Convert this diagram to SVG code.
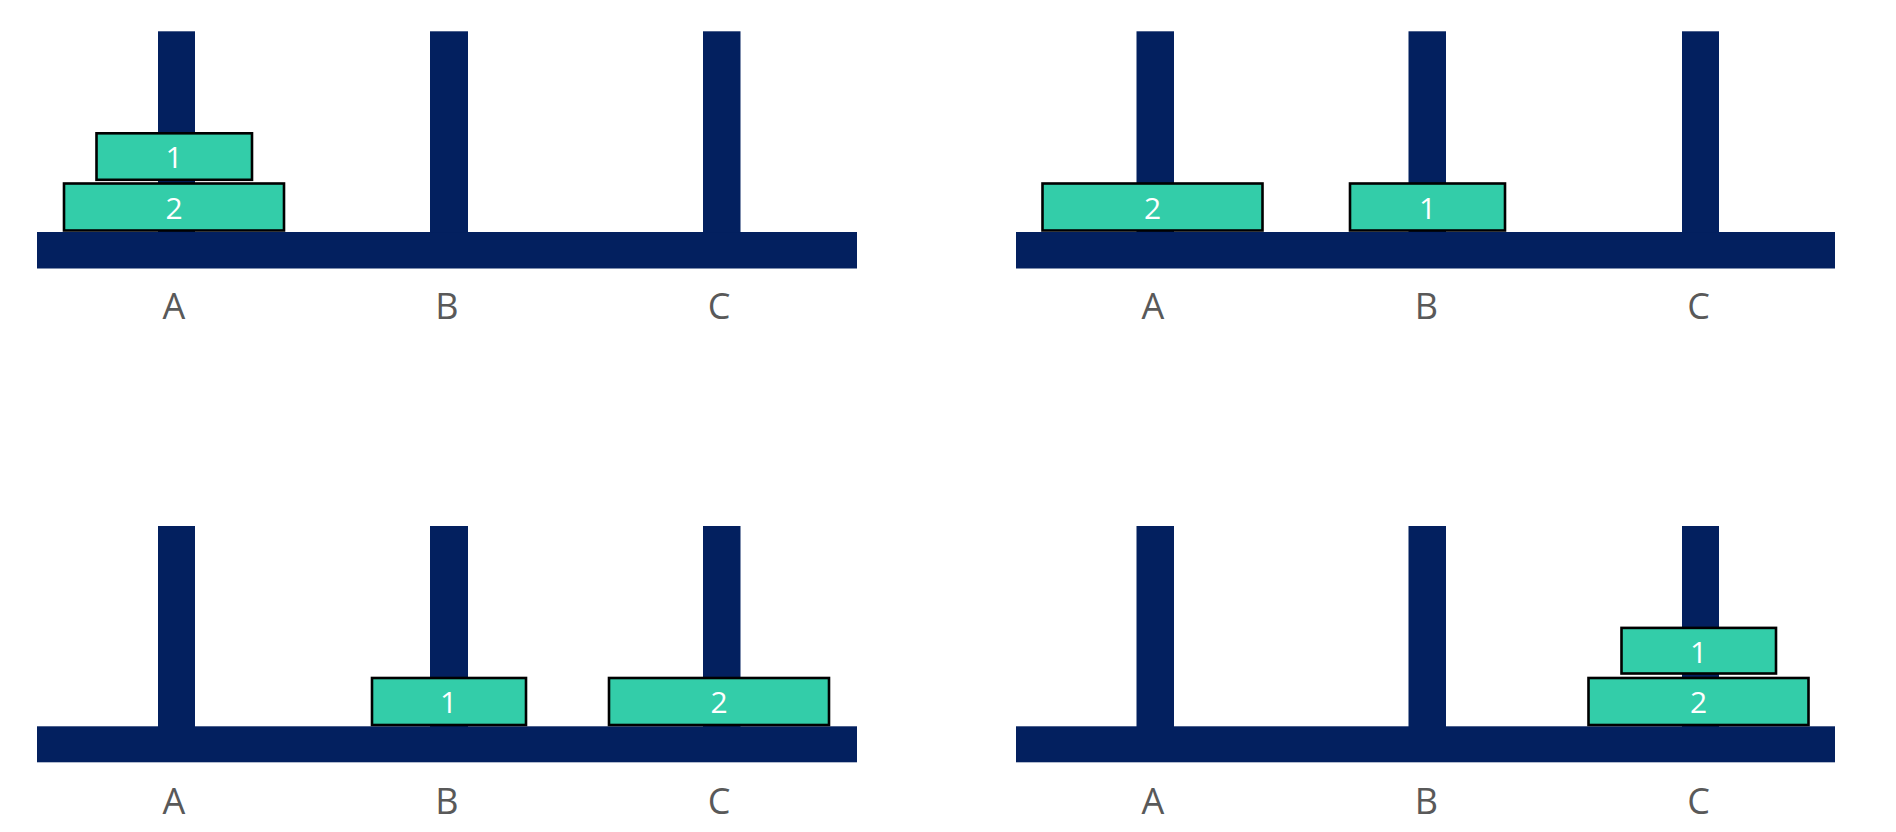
<svg xmlns="http://www.w3.org/2000/svg" width="1896" height="832" viewBox="0 0 1896 832">
  <style>
    .base, .peg { fill: #03205F; }
    .disk { fill: #33CDA9; stroke: #000000; stroke-width: 2.6; }
    .dnum { font-family: "Open Sans", "Liberation Sans", sans-serif; font-size: 30px; fill: #FFFFFF; text-anchor: middle; }
    .lbl { font-family: "Open Sans", "Liberation Sans", sans-serif; font-size: 36px; fill: #595959; text-anchor: middle; }
  </style>
  <rect width="1896" height="832" fill="#FFFFFF"/>

  <!-- Panel 1: top-left -->
  <g id="panel1">
    <g id="p1-base"><rect class="base" x="37" y="232" width="820" height="36.5"/></g>
    <g id="p1-pegA"><rect class="peg" x="158" y="31.3" width="37" height="201"/></g>
    <g id="p1-pegB"><rect class="peg" x="430" y="31.3" width="38" height="201"/></g>
    <g id="p1-pegC"><rect class="peg" x="703" y="31.3" width="37.5" height="201"/></g>
    <g id="p1-disk2"><rect class="disk" x="64" y="183.5" width="220" height="47"/><text class="dnum" x="174" y="219">2</text></g>
    <g id="p1-disk1"><rect class="disk" x="96.5" y="133.3" width="155.5" height="46.5"/><text class="dnum" x="174" y="168">1</text></g>
    <g id="p1-labels">
      <text class="lbl" x="174" y="319">A</text>
      <text class="lbl" x="447" y="319">B</text>
      <text class="lbl" x="719" y="319">C</text>
    </g>
  </g>

  <!-- Panel 2: top-right -->
  <g id="panel2">
    <g id="p2-base"><rect class="base" x="1016" y="232" width="819" height="36.5"/></g>
    <g id="p2-pegA"><rect class="peg" x="1136.5" y="31.3" width="37.5" height="201"/></g>
    <g id="p2-pegB"><rect class="peg" x="1408.5" y="31.3" width="37.5" height="201"/></g>
    <g id="p2-pegC"><rect class="peg" x="1682" y="31.3" width="37" height="201"/></g>
    <g id="p2-disk2"><rect class="disk" x="1042.5" y="183.5" width="220" height="47"/><text class="dnum" x="1152.5" y="219">2</text></g>
    <g id="p2-disk1"><rect class="disk" x="1350" y="183.5" width="155" height="47"/><text class="dnum" x="1427.5" y="219">1</text></g>
    <g id="p2-labels">
      <text class="lbl" x="1153" y="319">A</text>
      <text class="lbl" x="1426.5" y="319">B</text>
      <text class="lbl" x="1698.5" y="319">C</text>
    </g>
  </g>

  <!-- Panel 3: bottom-left -->
  <g id="panel3">
    <g id="p3-base"><rect class="base" x="37" y="726.3" width="820" height="36"/></g>
    <g id="p3-pegA"><rect class="peg" x="158" y="526" width="37" height="201"/></g>
    <g id="p3-pegB"><rect class="peg" x="430" y="526" width="38" height="201"/></g>
    <g id="p3-pegC"><rect class="peg" x="703" y="526" width="37.5" height="201"/></g>
    <g id="p3-disk1"><rect class="disk" x="372" y="678" width="154" height="47"/><text class="dnum" x="448.5" y="713">1</text></g>
    <g id="p3-disk2"><rect class="disk" x="609" y="678" width="220" height="47"/><text class="dnum" x="719" y="713">2</text></g>
    <g id="p3-labels">
      <text class="lbl" x="174" y="814">A</text>
      <text class="lbl" x="447" y="814">B</text>
      <text class="lbl" x="719" y="814">C</text>
    </g>
  </g>

  <!-- Panel 4: bottom-right -->
  <g id="panel4">
    <g id="p4-base"><rect class="base" x="1016" y="726.3" width="819" height="36"/></g>
    <g id="p4-pegA"><rect class="peg" x="1136.5" y="526" width="37.5" height="201"/></g>
    <g id="p4-pegB"><rect class="peg" x="1408.5" y="526" width="37.5" height="201"/></g>
    <g id="p4-pegC"><rect class="peg" x="1682" y="526" width="37" height="201"/></g>
    <g id="p4-disk2"><rect class="disk" x="1588.5" y="678" width="220" height="47"/><text class="dnum" x="1698.5" y="713">2</text></g>
    <g id="p4-disk1"><rect class="disk" x="1621.5" y="627.9" width="154.5" height="45.6"/><text class="dnum" x="1698.5" y="663">1</text></g>
    <g id="p4-labels">
      <text class="lbl" x="1153" y="814">A</text>
      <text class="lbl" x="1426.5" y="814">B</text>
      <text class="lbl" x="1698.5" y="814">C</text>
    </g>
  </g>
</svg>
